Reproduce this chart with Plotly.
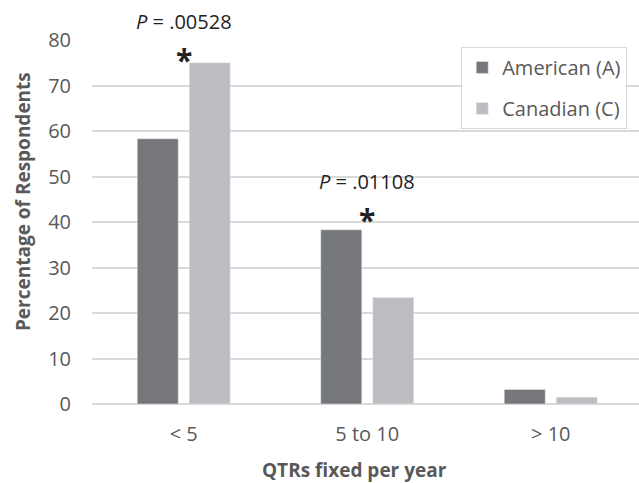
import plotly.graph_objects as go

categories = ["< 5", "5 to 10", "> 10"]
american = [58.3, 38.3, 3.2]
canadian = [75.0, 23.4, 1.5]
p_labels = ["<i>P</i> = .00528", "<i>P</i> = .01108", None]

DARK = "#76777b"
LIGHT = "#bcbdc0"
GRID = "#d9d9d9"
TXT = "#595959"
FONT = "Open Sans"

# pixel offsets of the significance marks above the taller bar of each group
star_shift = [-19, -12, 0]
label_shift = [26, 33, 0]

bar_w = 0.2234
fig = go.Figure()
fig.add_trace(go.Bar(x=categories, y=american, name="American (A)", marker_color=DARK,
                     width=bar_w, offset=-0.2534, legendgroup="a"))
fig.add_trace(go.Bar(x=categories, y=canadian, name="Canadian (C)", marker_color=LIGHT,
                     width=bar_w, offset=0.03, legendgroup="c"))

for i, lab in enumerate(p_labels):
    if lab is None:
        continue
    top = max(american[i], canadian[i])
    fig.add_annotation(x=categories[i], y=top, text="<b>*</b>", showarrow=False, yanchor="bottom",
                       yshift=star_shift[i], font=dict(family=FONT, size=30, color="#222222"))
    fig.add_annotation(x=categories[i], y=top, text=lab, showarrow=False, yanchor="bottom",
                       yshift=label_shift[i], font=dict(family=FONT, size=20, color="#222222"))

fig.add_annotation(text="<b>Percentage of Respondents</b>", xref="paper", yref="paper",
                   x=-0.126, y=0.555, xanchor="center", yanchor="middle", textangle=-90,
                   showarrow=False, font=dict(family=FONT, size=19, color=TXT))
fig.add_annotation(text="<b>QTRs fixed per year</b>", xref="paper", yref="paper",
                   x=0.479, y=-0.18, xanchor="center", yanchor="middle",
                   showarrow=False, font=dict(family=FONT, size=19, color=TXT))

fig.update_layout(
    width=639, height=483,
    margin=dict(l=92, r=0, t=40, b=79),
    paper_bgcolor="white", plot_bgcolor="white",
    barmode="overlay",
    font=dict(family=FONT, size=20, color=TXT),
    legend=dict(x=0.675, y=0.981, xanchor="left", yanchor="top",
                bordercolor=GRID, borderwidth=1, font=dict(size=20, color=TXT),
                tracegroupgap=12, traceorder="grouped", itemwidth=30),
    xaxis=dict(range=[-0.5, -0.5 + 547 / 183.5], showline=False, ticks="",
               ticklabelstandoff=16, tickfont=dict(size=20, color=TXT)),
    yaxis=dict(range=[0, 80], dtick=10, showgrid=True, gridcolor=GRID, gridwidth=1.5,
               zeroline=True, zerolinecolor=GRID, zerolinewidth=2,
               ticklabelstandoff=20, tickfont=dict(size=20, color=TXT)),
    showlegend=True,
)

fig.write_html("out.html")
